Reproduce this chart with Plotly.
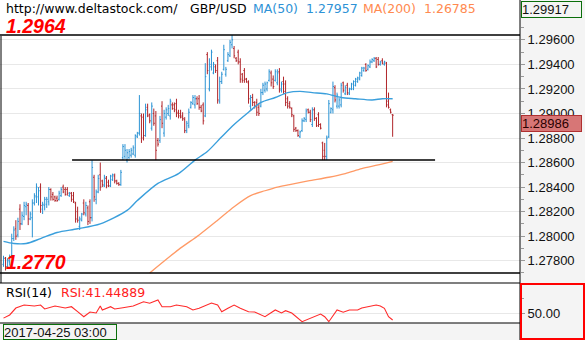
import plotly.graph_objects as go

# ---------------- data ----------------
open_ = [
    1.2777, 1.2782, 1.2775, 1.2779, 1.2783, 1.2798, 1.2806, 1.2801, 1.2822, 1.2810,
    1.2816, 1.2824, 1.2825, 1.2814, 1.2815, 1.2827, 1.2832, 1.2832, 1.2840, 1.2822,
    1.2825, 1.2826, 1.2828, 1.2838, 1.2834, 1.2832, 1.2831, 1.2830, 1.2833, 1.2840,
    1.2838, 1.2838, 1.2833, 1.2835, 1.2833, 1.2827, 1.2820, 1.2808, 1.2813, 1.2827,
    1.2818, 1.2823, 1.2828, 1.2815, 1.2848, 1.2830, 1.2836, 1.2850, 1.2845, 1.2841,
    1.2847, 1.2844, 1.2841, 1.2846, 1.2849, 1.2845, 1.2843, 1.2842, 1.2864, 1.2865,
    1.2862, 1.2864, 1.2866, 1.2867, 1.2866, 1.2881, 1.2884, 1.2898, 1.2897, 1.2882,
    1.2905, 1.2899, 1.2888, 1.2900, 1.2898, 1.2878, 1.2878, 1.2906, 1.2884, 1.2897,
    1.2900, 1.2898, 1.2907, 1.2907, 1.2908, 1.2901, 1.2900, 1.2898, 1.2895, 1.2886,
    1.2890, 1.2905, 1.2908, 1.2907, 1.2912, 1.2912, 1.2905, 1.2907, 1.2898, 1.2948,
    1.2920, 1.2938, 1.2933, 1.2938, 1.2943, 1.2910, 1.2926, 1.2936, 1.2932, 1.2943,
    1.2947, 1.2956, 1.2953, 1.2945, 1.2950, 1.2942, 1.2932, 1.2935, 1.2928, 1.2925,
    1.2906, 1.2913, 1.2909, 1.2909, 1.2905, 1.2906, 1.2917, 1.2919, 1.2920, 1.2927,
    1.2933, 1.2928, 1.2927, 1.2925, 1.2934, 1.2919, 1.2926, 1.2924, 1.2912, 1.2908,
    1.2904, 1.2898, 1.2888, 1.2886, 1.2881, 1.2886, 1.2894, 1.2895, 1.2903, 1.2901,
    1.2891, 1.2903, 1.2896, 1.2899, 1.2891, 1.2876, 1.2870, 1.2865, 1.2881, 1.2901,
    1.2903, 1.2921, 1.2906, 1.2906, 1.2907, 1.2925, 1.2916, 1.2923, 1.2916, 1.2920,
    1.2920, 1.2923, 1.2926, 1.2928, 1.2931, 1.2935, 1.2940, 1.2936, 1.2938, 1.2942,
    1.2943, 1.2945, 1.2944, 1.2940, 1.2943, 1.2940, 1.2941, 1.2910, 1.2903, 1.28990,
]
high = [
    1.2784, 1.2783, 1.2782, 1.2785, 1.2802, 1.2808, 1.2813, 1.2815, 1.2826, 1.2820,
    1.2828, 1.2828, 1.2827, 1.2820, 1.2830, 1.2835, 1.2843, 1.2840, 1.2843, 1.2828,
    1.2832, 1.2832, 1.2840, 1.2839, 1.2836, 1.2833, 1.2833, 1.2837, 1.2840, 1.2842,
    1.2840, 1.2840, 1.2836, 1.2836, 1.2836, 1.2828, 1.2824, 1.2816, 1.2819, 1.2830,
    1.2828, 1.2825, 1.2830, 1.2862, 1.2850, 1.2838, 1.2850, 1.2860, 1.2846, 1.2850,
    1.2849, 1.2846, 1.2850, 1.2851, 1.2851, 1.2846, 1.2844, 1.2854, 1.2875, 1.2875,
    1.2871, 1.2871, 1.2872, 1.2874, 1.2883, 1.2885, 1.2915, 1.2900, 1.2900, 1.2908,
    1.2908, 1.2900, 1.2909, 1.2904, 1.2902, 1.2880, 1.2898, 1.2910, 1.2903, 1.2905,
    1.2907, 1.2912, 1.2909, 1.2909, 1.2912, 1.2903, 1.2903, 1.2901, 1.2897, 1.2894,
    1.2904, 1.2910, 1.2915, 1.2915, 1.2914, 1.2915, 1.2907, 1.2909, 1.2941, 1.2950,
    1.2945, 1.2952, 1.2942, 1.2940, 1.2946, 1.2930, 1.2934, 1.2956, 1.2938, 1.2950,
    1.2960, 1.2964, 1.2955, 1.2946, 1.2952, 1.2945, 1.2933, 1.2937, 1.2929, 1.2927,
    1.2915, 1.2916, 1.2910, 1.2912, 1.2908, 1.2920, 1.2925, 1.2926, 1.2926, 1.2936,
    1.2935, 1.2931, 1.2936, 1.2936, 1.2937, 1.2926, 1.2930, 1.2927, 1.2914, 1.2910,
    1.2905, 1.2899, 1.2889, 1.2887, 1.2886, 1.2896, 1.2897, 1.2904, 1.2904, 1.2903,
    1.2905, 1.2905, 1.2897, 1.2901, 1.2892, 1.2877, 1.2876, 1.2882, 1.2911, 1.2905,
    1.2926, 1.2923, 1.2917, 1.2913, 1.2925, 1.2926, 1.2923, 1.2925, 1.2921, 1.2925,
    1.2927, 1.2929, 1.2930, 1.2934, 1.2938, 1.2938, 1.2941, 1.2940, 1.2944, 1.2945,
    1.2946, 1.2946, 1.2946, 1.2943, 1.2945, 1.2943, 1.2942, 1.2917, 1.2904, 1.28995,
]
low = [
    1.2775, 1.2772, 1.2774, 1.2776, 1.2782, 1.2796, 1.2797, 1.2799, 1.2805, 1.2809,
    1.2813, 1.2817, 1.2809, 1.2813, 1.2799, 1.2825, 1.2827, 1.2825, 1.2819, 1.2818,
    1.2821, 1.2823, 1.2825, 1.2829, 1.2829, 1.2828, 1.2828, 1.2829, 1.2832, 1.2835,
    1.2833, 1.2833, 1.2832, 1.2828, 1.2827, 1.2811, 1.2811, 1.2805, 1.2812, 1.2817,
    1.2816, 1.2809, 1.2810, 1.2812, 1.2828, 1.2826, 1.2835, 1.2837, 1.2840, 1.2840,
    1.2839, 1.2840, 1.2840, 1.2845, 1.2843, 1.2842, 1.2841, 1.2841, 1.2862, 1.2863,
    1.2860, 1.2863, 1.2864, 1.2866, 1.2864, 1.2880, 1.2882, 1.2876, 1.2878, 1.2881,
    1.2897, 1.2892, 1.2886, 1.2890, 1.2862, 1.2873, 1.2876, 1.2888, 1.2881, 1.2895,
    1.2898, 1.2895, 1.2903, 1.2901, 1.2897, 1.2896, 1.2896, 1.2894, 1.2884, 1.2884,
    1.2888, 1.2904, 1.2907, 1.2904, 1.2907, 1.2903, 1.2901, 1.2891, 1.2897, 1.2932,
    1.2918, 1.2935, 1.2932, 1.2933, 1.2908, 1.2908, 1.2924, 1.2935, 1.2930, 1.2942,
    1.2946, 1.2953, 1.2945, 1.2942, 1.2940, 1.2925, 1.2925, 1.2925, 1.2925, 1.2908,
    1.2903, 1.2906, 1.2904, 1.2898, 1.2898, 1.2905, 1.2915, 1.2917, 1.2918, 1.2926,
    1.2922, 1.2920, 1.2926, 1.2923, 1.2917, 1.2917, 1.2916, 1.2906, 1.2904, 1.2904,
    1.2897, 1.2885, 1.2885, 1.2881, 1.2880, 1.2885, 1.2893, 1.2893, 1.2900, 1.2893,
    1.2889, 1.2894, 1.2889, 1.2889, 1.2887, 1.2862, 1.2862, 1.2862, 1.2880, 1.2900,
    1.2900, 1.2909, 1.2904, 1.2904, 1.2905, 1.2917, 1.2915, 1.2915, 1.2915, 1.2919,
    1.2919, 1.2922, 1.2925, 1.2927, 1.2930, 1.2934, 1.2934, 1.2935, 1.2937, 1.2941,
    1.2942, 1.2937, 1.2939, 1.2939, 1.2940, 1.2939, 1.2905, 1.2904, 1.2900, 1.2881,
]
close = [
    1.2782, 1.2775, 1.2780, 1.2783, 1.2798, 1.2805, 1.2800, 1.2812, 1.2810, 1.2817,
    1.2825, 1.2826, 1.2814, 1.2818, 1.2827, 1.2833, 1.2840, 1.2837, 1.2825, 1.2826,
    1.2830, 1.2830, 1.2838, 1.2832, 1.2830, 1.2829, 1.2829, 1.2835, 1.2838, 1.2836,
    1.2834, 1.2835, 1.2835, 1.2830, 1.2828, 1.2814, 1.2813, 1.2814, 1.2818, 1.2819,
    1.2825, 1.2812, 1.2815, 1.2856, 1.2832, 1.2836, 1.2847, 1.2840, 1.2842, 1.2848,
    1.2841, 1.2841, 1.2849, 1.2850, 1.2845, 1.2843, 1.2842, 1.2852, 1.2873, 1.2870,
    1.2868, 1.2869, 1.2870, 1.2872, 1.2882, 1.2884, 1.2900, 1.2880, 1.2882, 1.2903,
    1.2898, 1.2894, 1.2906, 1.2892, 1.2870, 1.2875, 1.2895, 1.2892, 1.2900, 1.2903,
    1.2904, 1.2910, 1.2904, 1.2903, 1.2900, 1.2898, 1.2897, 1.2896, 1.2886, 1.2892,
    1.2901, 1.2909, 1.2913, 1.2912, 1.2908, 1.2905, 1.2902, 1.2894, 1.2930, 1.2935,
    1.2940, 1.2950, 1.2940, 1.2935, 1.2911, 1.2926, 1.2932, 1.2952, 1.2936, 1.2948,
    1.2958, 1.2960, 1.2947, 1.2943, 1.2942, 1.2928, 1.2927, 1.2928, 1.2926, 1.2912,
    1.2913, 1.2909, 1.2906, 1.2901, 1.2900, 1.2917, 1.2923, 1.2924, 1.2925, 1.2934,
    1.2925, 1.2922, 1.2934, 1.2933, 1.2920, 1.2924, 1.2918, 1.2909, 1.2906, 1.2905,
    1.2899, 1.2887, 1.2886, 1.2882, 1.2885, 1.2894, 1.2896, 1.2902, 1.2901, 1.2895,
    1.2903, 1.2896, 1.2890, 1.2891, 1.2888, 1.2865, 1.2865, 1.2880, 1.2908, 1.2904,
    1.2922, 1.2911, 1.2915, 1.2911, 1.2923, 1.2919, 1.2921, 1.2917, 1.2920, 1.2924,
    1.2926, 1.2928, 1.2929, 1.2933, 1.2937, 1.2937, 1.2935, 1.2939, 1.2942, 1.2944,
    1.2945, 1.2938, 1.2940, 1.2942, 1.2941, 1.2942, 1.2907, 1.2905, 1.2901, 1.28986,
]
bars = list(range(len(close)))
assert len(open_) == len(high) == len(low) == len(close)

# moving averages (bar index, value)
ma50_bar = [0, 5, 11, 18, 26, 36, 47, 60, 65, 75, 85, 93, 99, 106, 112, 119, 125,
            132, 138, 144, 150, 157, 164, 171, 179, 184, 189]
ma50_val = [1.27957, 1.2794, 1.2794, 1.2798, 1.2803, 1.2806, 1.2810, 1.2821, 1.2829,
            1.2843, 1.2851, 1.2862, 1.2869, 1.2881, 1.2891, 1.2901, 1.2909, 1.2913,
            1.2917, 1.2918, 1.2917, 1.2916, 1.2913, 1.2912, 1.2911, 1.2912, 1.2912]
ma200_bar = [71, 85, 95, 104, 112, 120, 127, 133, 139, 148, 158, 166, 174, 182, 189]
ma200_val = [1.2770, 1.2789, 1.2801, 1.2813, 1.2824, 1.2833, 1.2837, 1.2840, 1.2842,
             1.2845, 1.2848, 1.2851, 1.2855, 1.2858, 1.2861]
ma200_label = 1.26785

# RSI(14)
rsi_bar = [0, 3, 6, 10, 15, 18, 20, 25, 30, 33, 36, 39, 42, 45, 47, 48, 52, 54, 58, 63,
           68, 71, 75, 77, 81, 84, 89, 92, 95, 99, 101, 104, 106, 109, 112, 115, 119, 122, 127, 132,
           135, 137, 140, 145, 147, 150, 154, 156, 158, 162, 165, 168, 172, 174, 178, 181, 183, 185, 187, 189]
rsi_val = [41.44889, 46.7, 58.3, 63.3, 61.7, 63.3, 56.7, 61.7, 58.3, 60.5,
           52.2, 43.8, 51.7, 50.0, 61.7, 55.0, 60.5, 56.7, 58.8, 61.7,
           68.8, 66.2, 71.7, 60.5, 60.5, 63.3, 60.5, 55.0, 57.8, 63.3,
           66.7, 63.3, 52.2, 57.8, 63.3, 57.8, 52.2, 51.7, 43.8, 55.0,
           50.0, 53.8, 50.0, 35.5, 38.3, 43.8, 48.3, 43.8, 35.5, 55.0,
           51.2, 55.0, 55.0, 58.3, 60.5, 63.3, 61.7, 57.8, 43.8, 38.3]

# price scale labels
price_ticks = [1.278, 1.280, 1.282, 1.284, 1.286, 1.288, 1.290, 1.292, 1.294, 1.296]

# horizontal levels
high_level = 1.2964
low_level = 1.2770
support_level = 1.2862
support_start, support_end = 33.3, 209.6
cursor_price = 1.29917
cursor_time = "2017-04-25 03:00"

# ---------------- styling ----------------
W, H = 585, 340
UP, DOWN = "#2b93d4", "#b0262b"
MA50_C, MA200_C, RSI_C = "#3a9fdc", "#ff9a66", "#ff2a2a"
PANEL_BG = "#f4f4f4"


def px(x):
    return x / W


def py(y):
    return 1 - y / H


PLOT_R = px(520)
MAIN_BOT = py(283)
RSI_BOT = py(323)

fig = go.Figure()
fig.add_trace(go.Ohlc(
    x=bars, open=open_, high=high, low=low, close=close,
    increasing=dict(line=dict(color=UP, width=1)),
    decreasing=dict(line=dict(color=DOWN, width=1)),
    tickwidth=0.5, xaxis="x", yaxis="y", hoverinfo="skip",
))
fig.add_trace(go.Scatter(
    x=ma50_bar, y=ma50_val, mode="lines", xaxis="x", yaxis="y",
    line=dict(color=MA50_C, width=1.4, shape="spline", smoothing=0.8), hoverinfo="skip",
))
fig.add_trace(go.Scatter(
    x=ma200_bar, y=ma200_val, mode="lines", xaxis="x", yaxis="y",
    line=dict(color=MA200_C, width=1.3, shape="spline", smoothing=0.8), hoverinfo="skip",
))
fig.add_trace(go.Scatter(
    x=rsi_bar, y=rsi_val, mode="lines", xaxis="x", yaxis="y2",
    line=dict(color=RSI_C, width=1.1), hoverinfo="skip",
))

tick_font = dict(family="Liberation Sans, Arial", size=13, color="#111111")
fig.update_layout(
    width=W, height=H, margin=dict(l=0, r=0, t=0, b=0),
    paper_bgcolor="white", plot_bgcolor="white", showlegend=False,
    xaxis=dict(domain=[0, PLOT_R], range=[-1.70, 250.85], anchor="y2",
               showticklabels=False, showgrid=False, zeroline=False, ticks="",
               rangeslider=dict(visible=False), fixedrange=True),
    yaxis=dict(domain=[MAIN_BOT, 1], range=[1.27618, 1.29925], anchor="x", side="right",
               tickmode="array", tickvals=price_ticks, tickformat=".5f",
               showgrid=True, gridcolor="#e8e8e8", gridwidth=1, zeroline=False,
               ticks="outside", ticklen=4, tickcolor="#999999", tickfont=tick_font,
               minor=dict(tickmode="linear", tick0=1.277, dtick=0.001, ticks="outside", ticklen=3,
                          tickcolor="#999999", showgrid=False)),
    yaxis2=dict(domain=[RSI_BOT, MAIN_BOT], range=[33.33, 100], anchor="x", side="right",
                tickmode="array", tickvals=[50], ticktext=["50.00"],
                showgrid=True, gridcolor="#e8e8e8", zeroline=False,
                ticks="outside", ticklen=4, tickcolor="#999999", tickfont=tick_font,
                minor=dict(tickmode="array", tickvals=[75], ticks="outside", ticklen=3,
                           tickcolor="#999999", showgrid=False)),
)

shapes = [
    # price-scale column and time strip backgrounds
    dict(type="rect", xref="paper", yref="paper", x0=PLOT_R, x1=1, y0=0, y1=1,
         fillcolor=PANEL_BG, line=dict(width=0), layer="below"),
    dict(type="rect", xref="paper", yref="paper", x0=0, x1=1, y0=0, y1=RSI_BOT,
         fillcolor=PANEL_BG, line=dict(width=0), layer="below"),
    # frame lines
    dict(type="line", xref="paper", yref="paper", x0=PLOT_R, x1=PLOT_R, y0=0, y1=1,
         line=dict(color="black", width=1)),
    dict(type="line", xref="paper", yref="paper", x0=0, x1=PLOT_R, y0=MAIN_BOT, y1=MAIN_BOT,
         line=dict(color="black", width=1.2)),
    dict(type="line", xref="paper", yref="paper", x0=0, x1=PLOT_R, y0=RSI_BOT, y1=RSI_BOT,
         line=dict(color="black", width=1.2)),
    # cursor vertical
    dict(type="line", xref="paper", yref="paper", x0=px(1), x1=px(1), y0=MAIN_BOT, y1=py(36),
         line=dict(color="black", width=1)),
    # horizontal levels
    dict(type="line", xref="paper", yref="y", x0=0, x1=PLOT_R, y0=high_level, y1=high_level,
         line=dict(color="black", width=1.5)),
    dict(type="line", xref="paper", yref="y", x0=0, x1=PLOT_R, y0=low_level, y1=low_level,
         line=dict(color="black", width=1.5)),
    dict(type="line", xref="x", yref="y", x0=support_start, x1=support_end,
         y0=support_level, y1=support_level, line=dict(color="black", width=1.5)),
    # RSI scale frame
    dict(type="rect", xref="paper", yref="paper", x0=px(521), x1=px(584), y0=py(339), y1=py(284),
         line=dict(color="#ff0000", width=2), fillcolor="rgba(0,0,0,0)"),
]
fig.update_layout(shapes=shapes)

hdr = dict(family="DejaVu Sans, Verdana", size=12.5)
big = dict(family="Liberation Sans, Arial", size=19.5, color="#ff0000")
ann = [
    dict(x=px(4), y=py(8.5), text="http://www.deltastock.com/", font=dict(hdr, color="black")),
    dict(x=px(188), y=py(8.5), text="GBP/USD", font=dict(hdr, color="black")),
    dict(x=px(251), y=py(8.5), text="MA(50)", font=dict(hdr, color="#2e92d6")),
    dict(x=px(304), y=py(8.5), text=f"{ma50_val[0]:.5f}", font=dict(hdr, color="#2e92d6")),
    dict(x=px(361), y=py(8.5), text="MA(200)", font=dict(hdr, color="#ff8a50")),
    dict(x=px(422), y=py(8.5), text=f"{ma200_label:.5f}", font=dict(hdr, color="#ff8a50")),
    dict(x=px(4), y=py(26), text=f"<b><i>{high_level:.4f}</i></b>", font=big),
    dict(x=px(4), y=py(261.5), text=f"<b><i>{low_level:.4f}</i></b>", font=big),
    dict(x=px(4), y=py(292), text="RSI(14)", font=dict(hdr, color="black")),
    dict(x=px(59), y=py(292), text=f"RSI:{rsi_val[0]:.5f}", font=dict(hdr, color="#ff2020")),
]
for a in ann:
    a.update(xref="paper", yref="paper", xanchor="left", yanchor="middle",
             showarrow=False)

# price / time boxes
ann.append(dict(xref="paper", yref="paper", x=px(521), y=py(1.5), xanchor="left", yanchor="top",
                text=f"{cursor_price:.5f}", showarrow=False, font=tick_font,
                bgcolor=PANEL_BG, bordercolor="#0a6e0a", borderwidth=1, borderpad=0,
                width=59, height=15, align="left"))
ann.append(dict(xref="paper", yref="y", x=px(521), y=close[-1], xanchor="left", yanchor="top",
                text=f"{close[-1]:.5f}", showarrow=False, font=dict(tick_font, color="#2a0000"),
                bgcolor="#d77676", bordercolor="#b03030", borderwidth=1, borderpad=0,
                width=59, height=15, align="left"))
ann.append(dict(xref="paper", yref="paper", x=px(3), y=py(339.5), xanchor="left", yanchor="bottom",
                text=cursor_time, showarrow=False, font=tick_font,
                bgcolor=PANEL_BG, bordercolor="#0a6e0a", borderwidth=1, borderpad=0,
                width=112, height=14, align="left"))
fig.update_layout(annotations=ann)

fig.write_html("out.html")
